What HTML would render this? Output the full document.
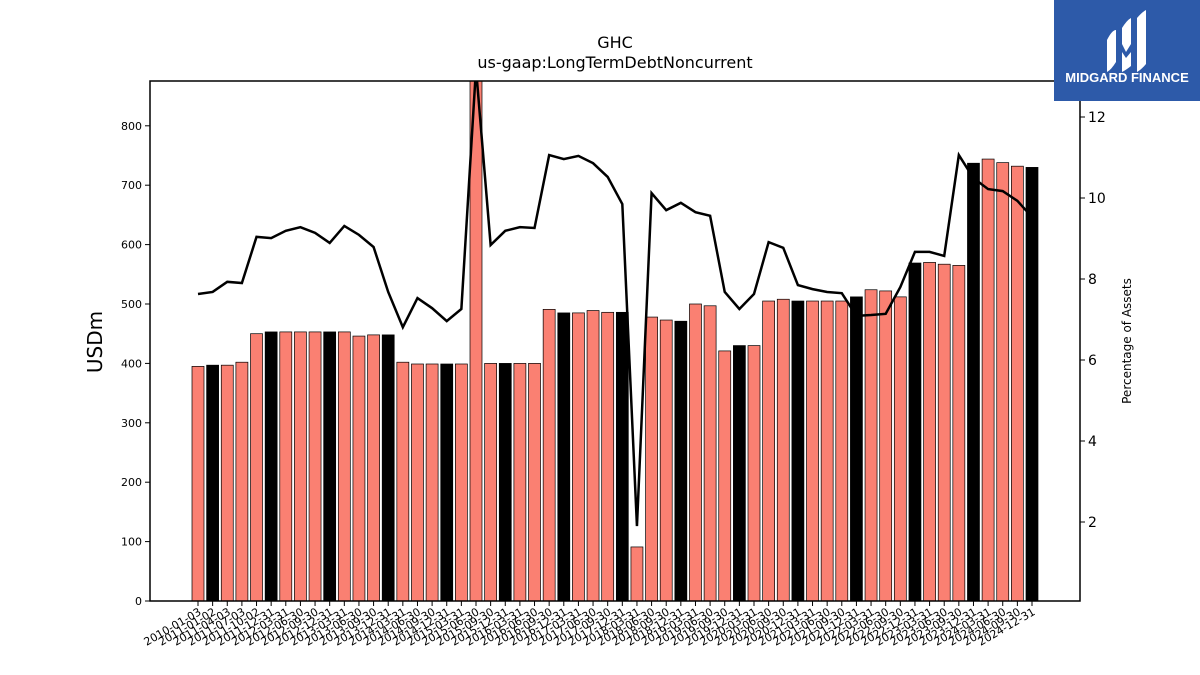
<!DOCTYPE html>
<html><head><meta charset="utf-8"><style>
body{margin:0;background:#fff;width:1200px;height:675px;overflow:hidden;font-family:"Liberation Sans","DejaVu Sans",sans-serif}
#logo{position:absolute;left:1054px;top:0;width:146px;height:101px;background:#2d5aa9}
</style></head><body>
<svg id="chart" width="1200" height="675" xmlns="http://www.w3.org/2000/svg" style="position:absolute;left:0;top:0;font-family:'DejaVu Sans','Liberation Sans',sans-serif">
<defs><clipPath id="clip"><rect x="150" y="81" width="930" height="520"/></clipPath></defs>
<text x="615" y="48" font-size="16" text-anchor="middle">GHC</text>
<text x="615" y="68" font-size="16" text-anchor="middle">us-gaap:LongTermDebtNoncurrent</text>
<g id="bars" clip-path="url(#clip)"></g>
<g id="line" clip-path="url(#clip)"></g>
<rect x="150" y="81" width="930" height="520" fill="none" stroke="#000" stroke-width="1.5"/>
<g id="axes"></g>
<text transform="translate(102,342) rotate(-90)" font-size="20" text-anchor="middle">USDm</text>
<text transform="translate(1131,341) rotate(-90)" font-size="12" text-anchor="middle">Percentage of Assets</text>
</svg>
<div id="logo">
<svg width="146" height="101">
<path d="M53 40 Q58 30 62 30 L62 62 Q57 70 53 72 Z" fill="#fff"/>
<path d="M68 28 Q73 20 77 18 L77 44 L72 52 L68 44 Z" fill="#fff"/>
<path d="M68 52 L72 58 L77 52 L77 66 Q72 70 68 72 Z" fill="#fff"/>
<path d="M83 18 Q88 12 92 10 L92 64 Q87 70 83 72 Z" fill="#fff"/>
<text x="73" y="82" font-size="13" font-weight="bold" fill="#fff" text-anchor="middle" font-family="Liberation Sans,sans-serif">MIDGARD FINANCE</text>
</svg></div>
<script>
const categories=["2010-01-03","2011-01-02","2011-04-03","2011-07-03","2011-10-02","2011-12-31","2012-03-31","2012-06-30","2012-09-30","2012-12-31","2013-03-31","2013-06-30","2013-09-30","2013-12-31","2014-03-31","2014-06-30","2014-09-30","2014-12-31","2015-03-31","2015-06-30","2015-09-30","2015-12-31","2016-03-31","2016-06-30","2016-09-30","2016-12-31","2017-03-31","2017-06-30","2017-09-30","2017-12-31","2018-03-31","2018-06-30","2018-09-30","2018-12-31","2019-03-31","2019-06-30","2019-09-30","2019-12-31","2020-03-31","2020-06-30","2020-09-30","2020-12-31","2021-03-31","2021-06-30","2021-09-30","2021-12-31","2022-03-31","2022-06-30","2022-09-30","2022-12-31","2023-03-31","2023-06-30","2023-09-30","2023-12-31","2024-03-31","2024-06-30","2024-09-30","2024-12-31"];
const debtValues=[395,397,397,402,450,453,453,453,453,453,453,446,448,448,402,399,399,399,399,900,400,400,400,400,491,485,485,489,486,486,91,478,473,471,500,497,421,430,430,505,508,505,505,505,505,512,524,522,512,569,570,567,565,737,744,738,732,730,720];
const pctValues=[7.63,7.68,7.93,7.9,9.04,9.01,9.19,9.28,9.14,8.89,9.31,9.09,8.79,7.68,6.81,7.53,7.28,6.96,7.26,13.2,8.84,9.19,9.28,9.26,11.06,10.96,11.04,10.86,10.52,9.85,1.9,10.12,9.7,9.88,9.65,9.56,7.68,7.26,7.63,8.91,8.77,7.85,7.75,7.68,7.65,7.09,7.11,7.14,7.8,8.67,8.67,8.57,11.06,10.49,10.22,10.17,9.93,9.53];
const yTicks=[0,100,200,300,400,500,600,700,800];
const y2Ticks=[2,4,6,8,10,12];
debtValues.splice(30,0);debtValues.length=categories.length;
const NS="http://www.w3.org/2000/svg";
const x0=198,dx=(1032-198)/(categories.length-1);
const xs=i=>x0+i*dx;
const ys=v=>601-v*0.594;
const y2s=v=>603-v*40.5;
function mk(t,a,p){const e=document.createElementNS(NS,t);for(const k in a)e.setAttribute(k,a[k]);p.appendChild(e);return e;}
const bars=document.getElementById('bars'),line=document.getElementById('line'),axes=document.getElementById('axes');
debtValues.forEach((v,i)=>{
 const r=mk('rect',{x:xs(i)-6,y:ys(v),width:12,height:601-ys(v),fill:(i%4==1)?'#000':'#fa8072',stroke:'#000','stroke-width':0.7},bars);
 
 
});
const pl=mk('polyline',{points:pctValues.map((v,i)=>xs(i)+','+y2s(v)).join(' '),fill:'none',stroke:'#000','stroke-width':2.5},line);


yTicks.forEach(t=>{
 mk('line',{x1:145,x2:150,y1:ys(t),y2:ys(t),stroke:'#000'},axes);
 const tx=mk('text',{x:142,y:ys(t)+4,'font-size':11,'text-anchor':'end'},axes);tx.textContent=t;
 
 
});
y2Ticks.forEach(t=>{
 mk('line',{x1:1080,x2:1085,y1:y2s(t),y2:y2s(t),stroke:'#000'},axes);
 const tx=mk('text',{x:1088,y:y2s(t)+5,'font-size':14},axes);tx.textContent=t;
 
 
});
categories.forEach((c,i)=>{
 mk('line',{x1:xs(i),x2:xs(i),y1:601,y2:606,stroke:'#000'},axes);
 const tx=mk('text',{transform:`translate(${xs(i)+4},${614}) rotate(-30)`,'font-size':11,'text-anchor':'end'},axes);tx.textContent=c;
 
 
});
</script>
</body></html>
